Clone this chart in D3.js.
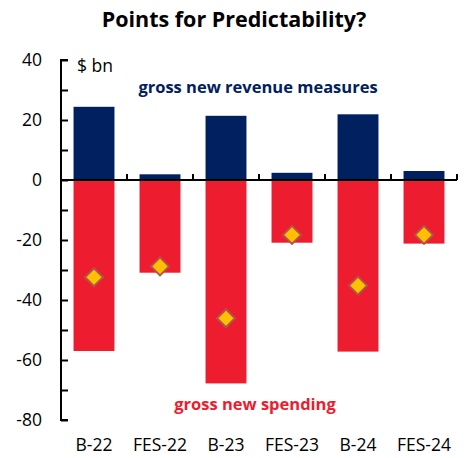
<!DOCTYPE html>
<html>
<head>
<meta charset="utf-8">
<script src="https://cdn.jsdelivr.net/npm/d3@7"></script>
<style>
  body { margin: 0; background: #fff; }
  svg { display: block; }
</style>
</head>
<body>
<script>
var categories = ['B-22', 'FES-22', 'B-23', 'FES-23', 'B-24', 'FES-24'];
var revenue = [24.4, 1.9, 21.4, 2.4, 21.9, 3.0];
var spending = [-57.0, -30.9, -67.8, -20.9, -57.2, -21.2];
var net = [-32.4, -28.8, -46.1, -18.3, -35.2, -18.3];
var yTicks = [40, 20, 0, -20, -40, -60, -80];

var w = 467, h = 458;
var font = '"Open Sans", sans-serif';

var svg = d3.select('body').append('svg')
	.attr('width', w)
	.attr('height', h);

var x = d3.scaleBand()
	.domain(categories)
	.range([61, 457])
	.paddingInner(0.38)
	.paddingOuter(0.19);

var y = d3.scaleLinear()
	.domain([-80, 40])
	.range([420, 60]);

// title
svg.append('text')
	.attr('x', 234)
	.attr('y', 27)
	.attr('text-anchor', 'middle')
	.style('font-family', font)
	.style('font-weight', 'bold')
	.style('font-size', '21.5px')
	.text('Points for Predictability?');

var data = categories.map(function(c, i){
	return {cat: c, rev: revenue[i], spend: spending[i], net: net[i]};
});

// bars
svg.selectAll('rect.rev')
	.data(data)
	.enter()
	.append('rect')
	.attr('class', 'rev')
	.attr('x', function(d){ return x(d.cat); })
	.attr('y', function(d){ return y(d.rev); })
	.attr('width', x.bandwidth())
	.attr('height', function(d){ return y(0) - y(d.rev); })
	.attr('fill', '#002060');

svg.selectAll('rect.spend')
	.data(data)
	.enter()
	.append('rect')
	.attr('class', 'spend')
	.attr('x', function(d){ return x(d.cat); })
	.attr('y', y(0))
	.attr('width', x.bandwidth())
	.attr('height', function(d){ return y(d.spend) - y(0); })
	.attr('fill', '#ED1C2E');

// y axis, ticks every 10, labels every 20
var yAxis = d3.axisRight(y)
	.tickValues(d3.range(-80, 41, 10))
	.tickSize(7)
	.tickFormat('');

var gy = svg.append('g')
	.attr('transform', 'translate(61,0)')
	.call(yAxis);
gy.select('.domain').attr('stroke', '#000').attr('stroke-width', 2).attr('d', 'M7,60H0V420H7');
gy.selectAll('.tick line').attr('stroke', '#000').attr('stroke-width', 2);

svg.selectAll('text.ylab')
	.data(yTicks)
	.enter()
	.append('text')
	.attr('class', 'ylab')
	.attr('x', 42)
	.attr('y', function(d){ return y(d) + 6; })
	.attr('text-anchor', 'end')
	.style('font-family', font)
	.style('font-size', '17.5px')
	.text(function(d){ return d; });

// zero line with category separators
var xAxis = d3.axisTop(x).tickSize(0).tickFormat('');
var gx = svg.append('g')
	.attr('transform', 'translate(0,' + y(0) + ')')
	.call(xAxis);
gx.select('.domain').attr('stroke', '#000').attr('stroke-width', 2).attr('d', 'M61,0H457');

var step = x.step();
svg.selectAll('line.sep')
	.data(categories)
	.enter()
	.append('line')
	.attr('class', 'sep')
	.attr('x1', function(d){ return x(d) - x.paddingOuter() * step + step; })
	.attr('x2', function(d){ return x(d) - x.paddingOuter() * step + step; })
	.attr('y1', y(0))
	.attr('y2', y(0) - 6)
	.attr('stroke', '#000')
	.attr('stroke-width', 2);

// category labels
svg.selectAll('text.xlab')
	.data(categories)
	.enter()
	.append('text')
	.attr('class', 'xlab')
	.attr('x', function(d){ return x(d) + x.bandwidth() / 2; })
	.attr('y', 451)
	.attr('text-anchor', 'middle')
	.style('font-family', font)
	.style('font-size', '17.5px')
	.text(function(d){ return d; });

// diamonds
svg.selectAll('path.net')
	.data(data)
	.enter()
	.append('path')
	.attr('class', 'net')
	.attr('transform', function(d){
		return 'translate(' + (x(d.cat) + x.bandwidth() / 2) + ',' + y(d.net) + ')';
	})
	.attr('d', 'M0,-9L9,0L0,9L-9,0Z')
	.attr('fill', '#FFC000')
	.attr('stroke', '#B5524A')
	.attr('stroke-width', 2);

// annotations
svg.append('text')
	.attr('x', 77)
	.attr('y', 72)
	.style('font-family', font)
	.style('font-size', '17.5px')
	.text('$ bn');

svg.append('text')
	.attr('x', 258)
	.attr('y', 93)
	.attr('text-anchor', 'middle')
	.style('font-family', font)
	.style('font-weight', 'bold')
	.style('font-size', '16.5px')
	.attr('fill', '#002060')
	.text('gross new revenue measures');

svg.append('text')
	.attr('x', 255)
	.attr('y', 410)
	.attr('text-anchor', 'middle')
	.style('font-family', font)
	.style('font-weight', 'bold')
	.style('font-size', '16.5px')
	.attr('fill', '#ED1C2E')
	.text('gross new spending');
</script>
</body>
</html>
